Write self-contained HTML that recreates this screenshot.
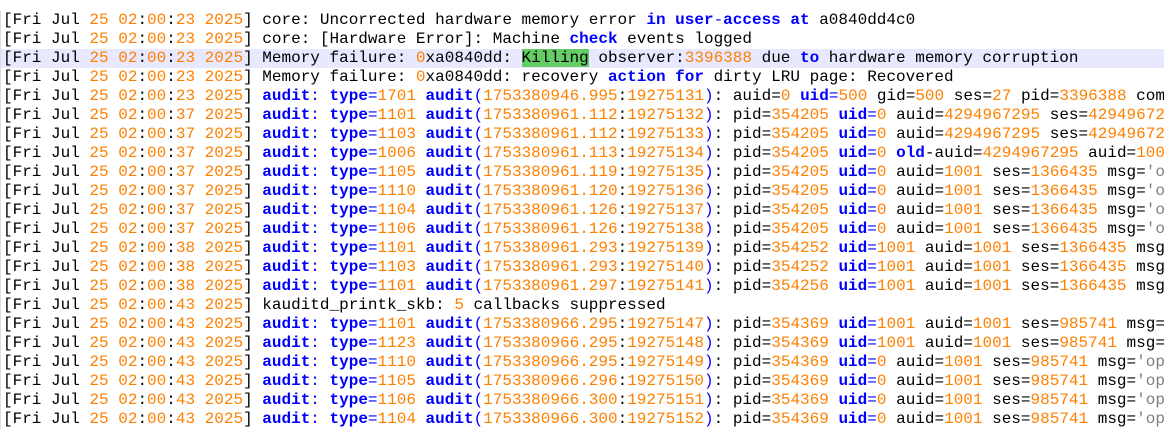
<!DOCTYPE html>
<html><head><meta charset="utf-8"><style>
html,body{margin:0;padding:0;background:#fff;width:1164px;height:430px;overflow:hidden}
#c{position:absolute;left:0;top:11px;width:1164px;border-left:1px solid #ddd}
.l{height:19px;line-height:19px;white-space:pre;font-family:"Liberation Mono",monospace;font-size:16px;color:#000;padding-left:2px;overflow:hidden}
.h{background:#e8e8ff}
.k{color:#0000ff;font-weight:bold}
.b{color:#0000ff}
.n{color:#ff8000}
.s{color:#808080}
.g{background:#66cc66}
</style></head><body><div id="c">
<div class="l">[Fri Jul <span class="n">25 02</span>:<span class="n">00</span>:<span class="n">23 2025</span>] core: Uncorrected hardware memory error <span class="k">in user</span><span class="b">-</span><span class="k">access at</span> a0840dd4c0</div>
<div class="l">[Fri Jul <span class="n">25 02</span>:<span class="n">00</span>:<span class="n">23 2025</span>] core: [Hardware Error]: Machine <span class="k">check</span> events logged</div>
<div class="l h">[Fri Jul <span class="n">25 02</span>:<span class="n">00</span>:<span class="n">23 2025</span>] Memory failure: <span class="n">0</span>xa0840dd: <span class="g">Killing</span> observer:<span class="n">3396388</span> due <span class="k">to</span> hardware memory corruption</div>
<div class="l">[Fri Jul <span class="n">25 02</span>:<span class="n">00</span>:<span class="n">23 2025</span>] Memory failure: <span class="n">0</span>xa0840dd: recovery <span class="k">action for</span> dirty LRU page: Recovered</div>
<div class="l">[Fri Jul <span class="n">25 02</span>:<span class="n">00</span>:<span class="n">23 2025</span>] <span class="k">audit</span><span class="b">:</span> <span class="k">type</span><span class="b">=</span><span class="n">1701</span> <span class="k">audit</span><span class="b">(</span><span class="n">1753380946.995</span>:<span class="n">19275131</span><span class="b">)</span>: auid=<span class="n">0</span> <span class="k">uid</span><span class="b">=</span><span class="n">500</span> gid=<span class="n">500</span> ses=<span class="n">27</span> pid=<span class="n">3396388</span> comm</div>
<div class="l">[Fri Jul <span class="n">25 02</span>:<span class="n">00</span>:<span class="n">37 2025</span>] <span class="k">audit</span><span class="b">:</span> <span class="k">type</span><span class="b">=</span><span class="n">1101</span> <span class="k">audit</span><span class="b">(</span><span class="n">1753380961.112</span>:<span class="n">19275132</span><span class="b">)</span>: pid=<span class="n">354205</span> <span class="k">uid</span><span class="b">=</span><span class="n">0</span> auid=<span class="n">4294967295</span> ses=<span class="n">4294967295</span></div>
<div class="l">[Fri Jul <span class="n">25 02</span>:<span class="n">00</span>:<span class="n">37 2025</span>] <span class="k">audit</span><span class="b">:</span> <span class="k">type</span><span class="b">=</span><span class="n">1103</span> <span class="k">audit</span><span class="b">(</span><span class="n">1753380961.112</span>:<span class="n">19275133</span><span class="b">)</span>: pid=<span class="n">354205</span> <span class="k">uid</span><span class="b">=</span><span class="n">0</span> auid=<span class="n">4294967295</span> ses=<span class="n">4294967295</span></div>
<div class="l">[Fri Jul <span class="n">25 02</span>:<span class="n">00</span>:<span class="n">37 2025</span>] <span class="k">audit</span><span class="b">:</span> <span class="k">type</span><span class="b">=</span><span class="n">1006</span> <span class="k">audit</span><span class="b">(</span><span class="n">1753380961.113</span>:<span class="n">19275134</span><span class="b">)</span>: pid=<span class="n">354205</span> <span class="k">uid</span><span class="b">=</span><span class="n">0</span> <span class="k">old</span>-auid=<span class="n">4294967295</span> auid=<span class="n">1001</span></div>
<div class="l">[Fri Jul <span class="n">25 02</span>:<span class="n">00</span>:<span class="n">37 2025</span>] <span class="k">audit</span><span class="b">:</span> <span class="k">type</span><span class="b">=</span><span class="n">1105</span> <span class="k">audit</span><span class="b">(</span><span class="n">1753380961.119</span>:<span class="n">19275135</span><span class="b">)</span>: pid=<span class="n">354205</span> <span class="k">uid</span><span class="b">=</span><span class="n">0</span> auid=<span class="n">1001</span> ses=<span class="n">1366435</span> msg=<span class="s">'op</span></div>
<div class="l">[Fri Jul <span class="n">25 02</span>:<span class="n">00</span>:<span class="n">37 2025</span>] <span class="k">audit</span><span class="b">:</span> <span class="k">type</span><span class="b">=</span><span class="n">1110</span> <span class="k">audit</span><span class="b">(</span><span class="n">1753380961.120</span>:<span class="n">19275136</span><span class="b">)</span>: pid=<span class="n">354205</span> <span class="k">uid</span><span class="b">=</span><span class="n">0</span> auid=<span class="n">1001</span> ses=<span class="n">1366435</span> msg=<span class="s">'op</span></div>
<div class="l">[Fri Jul <span class="n">25 02</span>:<span class="n">00</span>:<span class="n">37 2025</span>] <span class="k">audit</span><span class="b">:</span> <span class="k">type</span><span class="b">=</span><span class="n">1104</span> <span class="k">audit</span><span class="b">(</span><span class="n">1753380961.126</span>:<span class="n">19275137</span><span class="b">)</span>: pid=<span class="n">354205</span> <span class="k">uid</span><span class="b">=</span><span class="n">0</span> auid=<span class="n">1001</span> ses=<span class="n">1366435</span> msg=<span class="s">'op</span></div>
<div class="l">[Fri Jul <span class="n">25 02</span>:<span class="n">00</span>:<span class="n">37 2025</span>] <span class="k">audit</span><span class="b">:</span> <span class="k">type</span><span class="b">=</span><span class="n">1106</span> <span class="k">audit</span><span class="b">(</span><span class="n">1753380961.126</span>:<span class="n">19275138</span><span class="b">)</span>: pid=<span class="n">354205</span> <span class="k">uid</span><span class="b">=</span><span class="n">0</span> auid=<span class="n">1001</span> ses=<span class="n">1366435</span> msg=<span class="s">'op</span></div>
<div class="l">[Fri Jul <span class="n">25 02</span>:<span class="n">00</span>:<span class="n">38 2025</span>] <span class="k">audit</span><span class="b">:</span> <span class="k">type</span><span class="b">=</span><span class="n">1101</span> <span class="k">audit</span><span class="b">(</span><span class="n">1753380961.293</span>:<span class="n">19275139</span><span class="b">)</span>: pid=<span class="n">354252</span> <span class="k">uid</span><span class="b">=</span><span class="n">1001</span> auid=<span class="n">1001</span> ses=<span class="n">1366435</span> msg=</div>
<div class="l">[Fri Jul <span class="n">25 02</span>:<span class="n">00</span>:<span class="n">38 2025</span>] <span class="k">audit</span><span class="b">:</span> <span class="k">type</span><span class="b">=</span><span class="n">1103</span> <span class="k">audit</span><span class="b">(</span><span class="n">1753380961.293</span>:<span class="n">19275140</span><span class="b">)</span>: pid=<span class="n">354252</span> <span class="k">uid</span><span class="b">=</span><span class="n">1001</span> auid=<span class="n">1001</span> ses=<span class="n">1366435</span> msg=</div>
<div class="l">[Fri Jul <span class="n">25 02</span>:<span class="n">00</span>:<span class="n">38 2025</span>] <span class="k">audit</span><span class="b">:</span> <span class="k">type</span><span class="b">=</span><span class="n">1101</span> <span class="k">audit</span><span class="b">(</span><span class="n">1753380961.297</span>:<span class="n">19275141</span><span class="b">)</span>: pid=<span class="n">354256</span> <span class="k">uid</span><span class="b">=</span><span class="n">1001</span> auid=<span class="n">1001</span> ses=<span class="n">1366435</span> msg=</div>
<div class="l">[Fri Jul <span class="n">25 02</span>:<span class="n">00</span>:<span class="n">43 2025</span>] kauditd_printk_skb: <span class="n">5</span> callbacks suppressed</div>
<div class="l">[Fri Jul <span class="n">25 02</span>:<span class="n">00</span>:<span class="n">43 2025</span>] <span class="k">audit</span><span class="b">:</span> <span class="k">type</span><span class="b">=</span><span class="n">1101</span> <span class="k">audit</span><span class="b">(</span><span class="n">1753380966.295</span>:<span class="n">19275147</span><span class="b">)</span>: pid=<span class="n">354369</span> <span class="k">uid</span><span class="b">=</span><span class="n">1001</span> auid=<span class="n">1001</span> ses=<span class="n">985741</span> msg=<span class="s">'</span></div>
<div class="l">[Fri Jul <span class="n">25 02</span>:<span class="n">00</span>:<span class="n">43 2025</span>] <span class="k">audit</span><span class="b">:</span> <span class="k">type</span><span class="b">=</span><span class="n">1123</span> <span class="k">audit</span><span class="b">(</span><span class="n">1753380966.295</span>:<span class="n">19275148</span><span class="b">)</span>: pid=<span class="n">354369</span> <span class="k">uid</span><span class="b">=</span><span class="n">1001</span> auid=<span class="n">1001</span> ses=<span class="n">985741</span> msg=<span class="s">'</span></div>
<div class="l">[Fri Jul <span class="n">25 02</span>:<span class="n">00</span>:<span class="n">43 2025</span>] <span class="k">audit</span><span class="b">:</span> <span class="k">type</span><span class="b">=</span><span class="n">1110</span> <span class="k">audit</span><span class="b">(</span><span class="n">1753380966.295</span>:<span class="n">19275149</span><span class="b">)</span>: pid=<span class="n">354369</span> <span class="k">uid</span><span class="b">=</span><span class="n">0</span> auid=<span class="n">1001</span> ses=<span class="n">985741</span> msg=<span class="s">'op</span></div>
<div class="l">[Fri Jul <span class="n">25 02</span>:<span class="n">00</span>:<span class="n">43 2025</span>] <span class="k">audit</span><span class="b">:</span> <span class="k">type</span><span class="b">=</span><span class="n">1105</span> <span class="k">audit</span><span class="b">(</span><span class="n">1753380966.296</span>:<span class="n">19275150</span><span class="b">)</span>: pid=<span class="n">354369</span> <span class="k">uid</span><span class="b">=</span><span class="n">0</span> auid=<span class="n">1001</span> ses=<span class="n">985741</span> msg=<span class="s">'op</span></div>
<div class="l">[Fri Jul <span class="n">25 02</span>:<span class="n">00</span>:<span class="n">43 2025</span>] <span class="k">audit</span><span class="b">:</span> <span class="k">type</span><span class="b">=</span><span class="n">1106</span> <span class="k">audit</span><span class="b">(</span><span class="n">1753380966.300</span>:<span class="n">19275151</span><span class="b">)</span>: pid=<span class="n">354369</span> <span class="k">uid</span><span class="b">=</span><span class="n">0</span> auid=<span class="n">1001</span> ses=<span class="n">985741</span> msg=<span class="s">'op</span></div>
<div class="l">[Fri Jul <span class="n">25 02</span>:<span class="n">00</span>:<span class="n">43 2025</span>] <span class="k">audit</span><span class="b">:</span> <span class="k">type</span><span class="b">=</span><span class="n">1104</span> <span class="k">audit</span><span class="b">(</span><span class="n">1753380966.300</span>:<span class="n">19275152</span><span class="b">)</span>: pid=<span class="n">354369</span> <span class="k">uid</span><span class="b">=</span><span class="n">0</span> auid=<span class="n">1001</span> ses=<span class="n">985741</span> msg=<span class="s">'op</span></div>
</div></body></html>
